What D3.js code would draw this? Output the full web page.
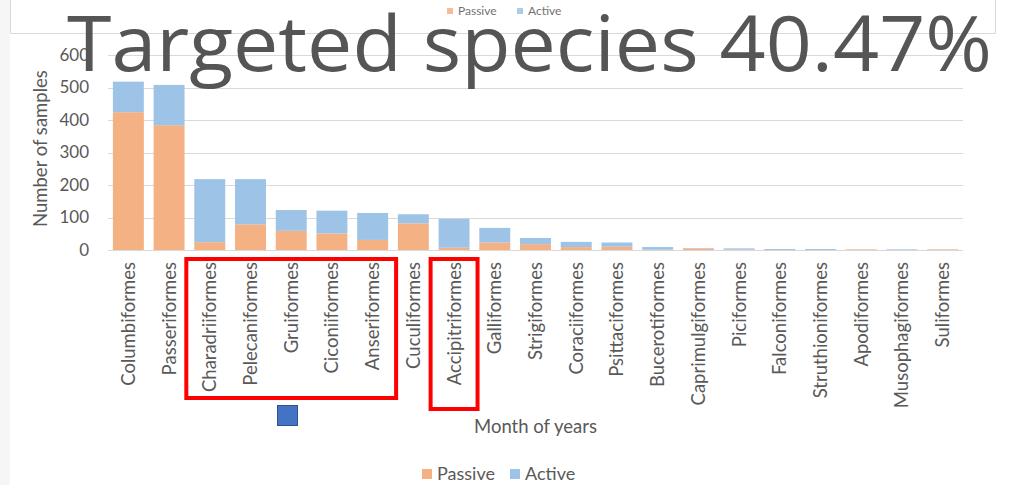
<!DOCTYPE html>
<html lang="en">
<head>
  <meta charset="UTF-8">
  <title>Targeted species</title>
  <script src="https://d3js.org/d3.v7.min.js"></script>
  <style>
    body {
      margin: 0;
      background: white;
      font-family: Lato, "Open Sans", sans-serif;
    }
    svg {
      display: block;
    }
    .tick text {
      fill: #595959;
    }
  </style>
</head>
<body>
  <svg id="chart"></svg>
  <script>
    const orders = ["Columbiformes", "Passeriformes", "Charadriiformes", "Pelecaniformes",
      "Gruiformes", "Ciconiiformes", "Anseriformes", "Cuculiformes", "Accipitriformes",
      "Galliformes", "Strigiformes", "Coraciiformes", "Psittaciformes", "Bucerotiformes",
      "Caprimulgiformes", "Piciformes", "Falconiformes", "Struthioniformes", "Apodiformes",
      "Musophagiformes", "Suliformes"];
    const passive = [424, 384, 24, 79, 59, 51, 31, 82, 7, 23, 18, 9, 10, 1, 5, 1, 0, 0, 2, 0, 2];
    const active = [94, 124, 194, 139, 64, 70, 83, 28, 89, 45, 19, 16, 13, 8, 1, 4, 3, 3, 0, 2, 0];
    const yTicks = [0, 100, 200, 300, 400, 500, 600];
    const seriesNames = ["Passive", "Active"];
    const colors = { Passive: "#f4b183", Active: "#9dc3e6" };

    // boxed groups in the annotation
    const boxGroups = [["Charadriiformes", "Anseriformes"], ["Accipitriformes", "Accipitriformes"]];

    const width = 1017, height = 485;
    const margin = { top: 55, right: 54, bottom: 235, left: 108 };

    const svg = d3.select("#chart")
      .attr("width", width)
      .attr("height", height);

    // light strip on the left edge and the faded legend box at the top
    svg.append("rect").attr("x", 0).attr("y", 0).attr("width", 10).attr("height", height).attr("fill", "#f6f6f6");
    svg.append("path")
      .attr("d", "M10.5,0V33.5H995.5V0")
      .attr("fill", "none").attr("stroke", "#d9d9d9");

    const data = orders.map((o, i) => ({ order: o, Passive: passive[i], Active: active[i] }));
    const stacked = d3.stack().keys(seriesNames)(data);

    const x = d3.scaleBand().domain(orders)
      .range([margin.left, width - margin.right]).paddingInner(0.24).paddingOuter(0.12);
    const y = d3.scaleLinear().domain([0, 600]).range([height - margin.bottom, margin.top]);

    // gridlines
    svg.append("g").selectAll("line").data(yTicks).join("line")
      .attr("x1", margin.left).attr("x2", width - margin.right)
      .attr("y1", d => Math.round(y(d)) + 0.5).attr("y2", d => Math.round(y(d)) + 0.5)
      .attr("stroke", "#d9d9d9").attr("stroke-width", 1);

    // bars
    svg.append("g").selectAll("g").data(stacked).join("g")
      .attr("fill", d => colors[d.key])
      .selectAll("rect").data(d => d).join("rect")
      .attr("x", d => x(d.data.order))
      .attr("y", d => y(d[1]))
      .attr("width", x.bandwidth())
      .attr("height", d => y(d[0]) - y(d[1]));

    // y axis
    const yAxis = svg.append("g")
      .attr("transform", `translate(${margin.left},0)`)
      .call(d3.axisLeft(y).tickValues(yTicks).tickSize(0).tickPadding(19));
    yAxis.select(".domain").remove();
    yAxis.selectAll("text").style("font-size", "17px").style("font-family", "Lato, sans-serif");

    // x axis
    const xAxis = svg.append("g")
      .attr("transform", `translate(0,${height - margin.bottom})`)
      .call(d3.axisBottom(x).tickSize(0));
    xAxis.select(".domain").remove();
    xAxis.selectAll("text")
      .style("font-size", "18.5px")
      .style("font-family", "Lato, sans-serif")
      .attr("transform", "rotate(-90)")
      .attr("text-anchor", "end")
      .attr("x", -12).attr("y", 0).attr("dy", "0.35em");

    // axis titles
    svg.append("text")
      .attr("transform", `translate(47,${y(312)}) rotate(-90)`)
      .attr("text-anchor", "middle")
      .attr("fill", "#595959")
      .style("font-size", "18.5px")
      .text("Number of samples");

    svg.append("text")
      .attr("x", (margin.left + width - margin.right) / 2)
      .attr("y", 433)
      .attr("text-anchor", "middle")
      .attr("fill", "#595959")
      .style("font-size", "18.5px")
      .text("Month of years");

    // red annotation boxes
    svg.append("g").selectAll("rect").data(boxGroups).join("rect")
      .attr("x", d => x(d[0]) - 8)
      .attr("y", height - margin.bottom + 9)
      .attr("width", d => x(d[1]) + x.bandwidth() + 8 - (x(d[0]) - 8))
      .attr("height", (d, i) => i === 0 ? 139 : 150)
      .attr("fill", "none")
      .attr("stroke", "#ff0000")
      .attr("stroke-width", 4);

    // small blue marker square
    svg.append("rect")
      .attr("x", 277.5).attr("y", 405.5).attr("width", 20).attr("height", 20)
      .attr("fill", "#4472c4").attr("stroke", "#2f528f").attr("stroke-width", 1);

    // legends
    function legend(xs, yPos, size, fontSize, opacity) {
      const lg = svg.append("g").attr("opacity", opacity);
      seriesNames.forEach((name, i) => {
        lg.append("rect")
          .attr("x", xs[i]).attr("y", yPos - size / 2)
          .attr("width", size).attr("height", size)
          .attr("fill", colors[name]);
        lg.append("text")
          .attr("x", xs[i] + size + 5).attr("y", yPos)
          .attr("dy", "0.35em")
          .attr("fill", "#595959")
          .style("font-size", fontSize + "px")
          .text(name);
      });
    }
    legend([447, 517], 11, 6, 12, 0.85);
    legend([422, 510], 474, 10, 18, 1);

    // big overlaid title
    svg.append("text")
      .attr("x", 67).attr("y", 71)
      .attr("fill", "#555555")
      .attr("textLength", 925)
      .attr("lengthAdjust", "spacingAndGlyphs")
      .style("font-family", "'Open Sans', sans-serif")
      .style("font-size", "77px")
      .text("Targeted species 40.47%");
  </script>
</body>
</html>
